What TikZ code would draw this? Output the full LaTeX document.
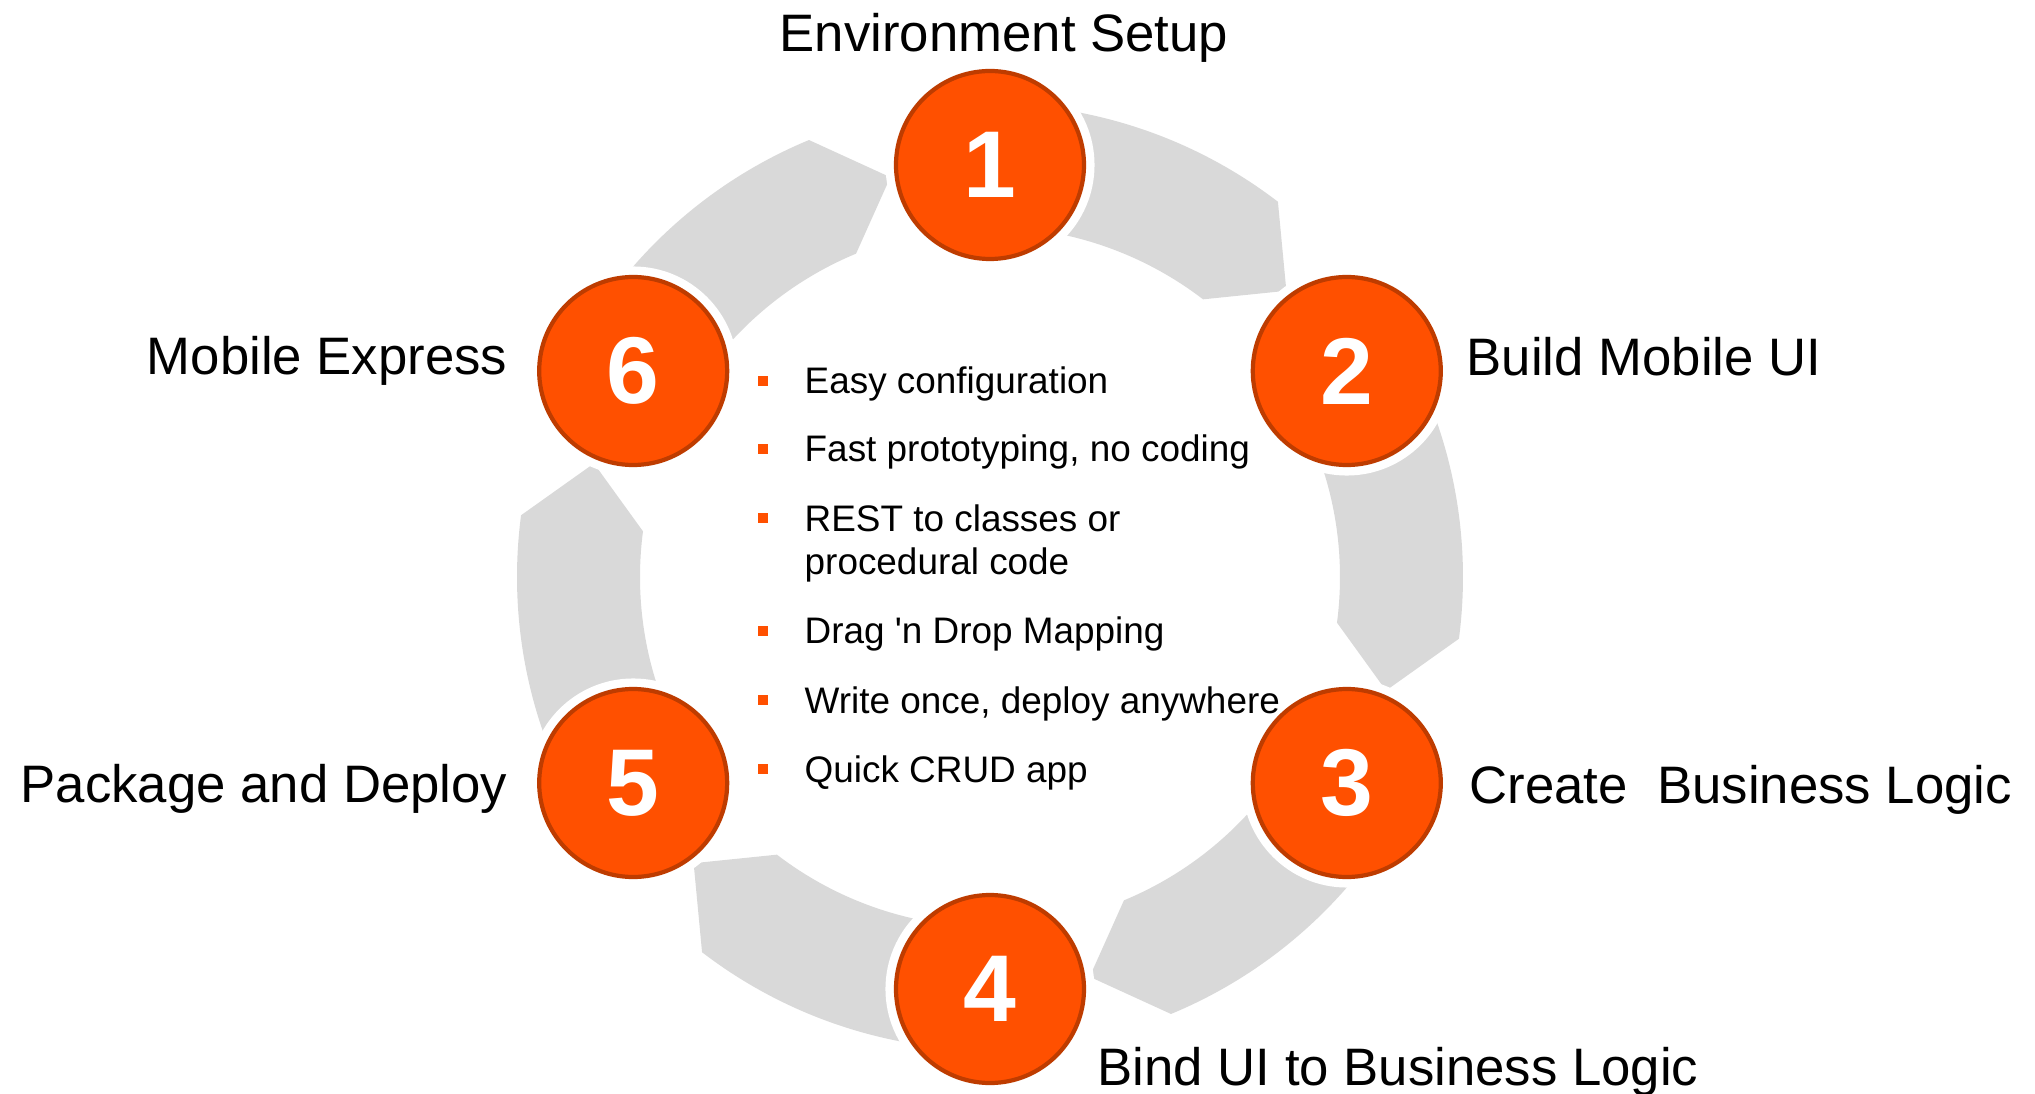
\documentclass[tikz,border=0pt]{standalone}
\usepackage{fontspec}
\setmainfont{Liberation Sans}
\usetikzlibrary{positioning}
\definecolor{stepfill}{RGB}{255,80,0}
\definecolor{stepline}{RGB}{190,60,0}
\definecolor{bandgray}{RGB}{217,217,217}

\begin{document}
\begin{tikzpicture}[
    band/.style={fill=bandgray},
    stepnode/.style={circle, fill=stepfill, draw=stepline, line width=1.2pt,
        minimum size=1.88cm, inner sep=0pt, text=white,
        font=\fontsize{27}{27}\selectfont\bfseries,
        preaction={draw=white, line width=6pt}},
    steplabel/.style={inner sep=0pt, font=\fontsize{15}{18}\selectfont},
    itemtext/.style={anchor=base west, align=left, inner sep=0pt,
        font=\fontsize{10.5}{12.5}\selectfont},
    itemsq/.style={rectangle, fill=stepfill, minimum size=0.1cm, inner sep=0pt}]
    \useasboundingbox (-9.90,-5.17) rectangle (10.45,5.77);
% Arrows
    \foreach \a in {150,90,30,-30,-90,-150}
        \fill[band] (\a-5:4.73) arc[start angle=\a-5, end angle=\a-37.5, radius=4.73cm]
            -- (\a-46:4.12) -- (\a-37.5:3.50)
            arc[start angle=\a-37.5, end angle=\a-5, radius=3.50cm] -- cycle;
% Steps
    \node[stepnode] (s1) at (90:4.12) {1};
    \node[stepnode] (s2) at (30:4.12) {2};
    \node[stepnode] (s3) at (-30:4.12) {3};
    \node[stepnode] (s4) at (-90:4.12) {4};
    \node[stepnode] (s5) at (-150:4.12) {5};
    \node[stepnode] (s6) at (150:4.12) {6};
% Labels
    \node[steplabel, anchor=base] (l1) at (0.14,5.25) {Environment Setup};
    \node[steplabel, anchor=base west] (l2) at (4.76,2.01) {Build Mobile UI};
    \node[steplabel, anchor=base west] (l3) at (4.79,-2.26) {Create\ \ Business Logic};
    \node[steplabel, anchor=base west] (l4) at (1.07,-5.08) {Bind UI to Business Logic};
    \node[steplabel, anchor=base east] (l5) at (-4.82,-2.25) {Package and Deploy};
    \node[steplabel, anchor=base east] (l6) at (-4.82,2.02) {Mobile Express};
% Bullets (square at first line, text on last baseline)
    \foreach \qy/\ty/\txt [count=\i] in {1.83/1.83/Easy configuration,
            1.15/1.15/{Fast prototyping, no coding},
            0.46/0.02/{REST to classes or\\procedural code},
            -0.67/-0.67/{Drag \textquotesingle n Drop Mapping},
            -1.36/-1.36/{Write once, deploy anywhere},
            -2.05/-2.05/Quick CRUD app} {
        \node[itemsq] (q\i) at (-2.27,\qy+0.13) {};
        \node[itemtext] (t\i) at (-1.86,\ty) {\txt};
    }
\end{tikzpicture}
\end{document}
